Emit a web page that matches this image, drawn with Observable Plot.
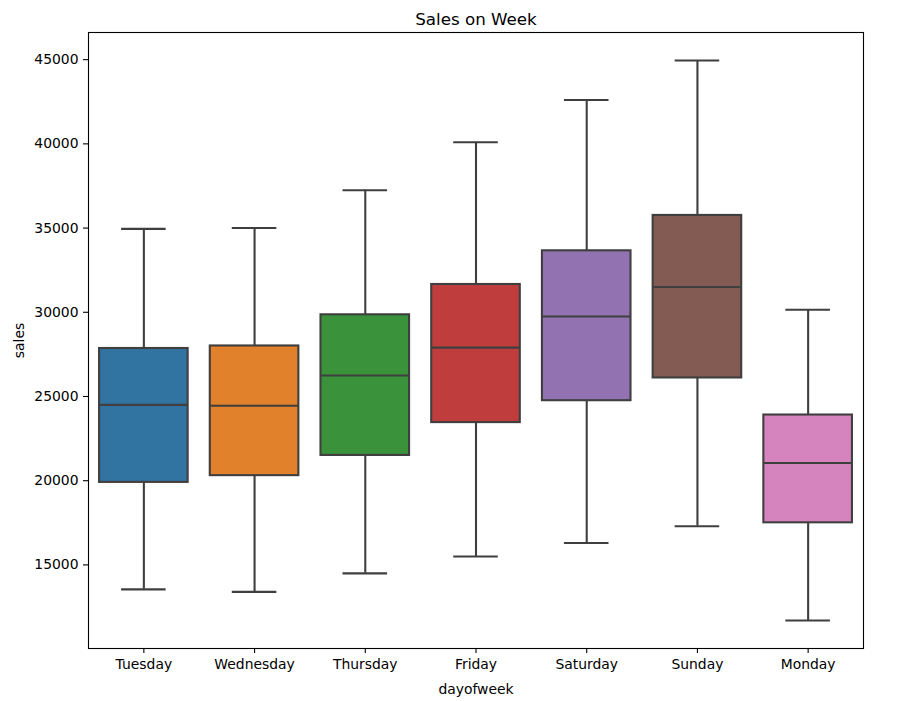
<!DOCTYPE html>
<html>
<head>
<meta charset="utf-8">
<script src="https://cdn.jsdelivr.net/npm/d3@7"></script>
<script src="https://cdn.jsdelivr.net/npm/@observablehq/plot@0.6"></script>
<style>
  html, body { margin: 0; padding: 0; background: #fff; }
</style>
</head>
<body>
<div id="chart"></div>
<script>
const days = ["Tuesday","Wednesday","Thursday","Friday","Saturday","Sunday","Monday"];
const whiskerLow = [13550,13400,14500,15500,16300,17300,11700];
const q1 = [19900,20300,21500,23450,24750,26100,17500];
const median = [24500,24450,26250,27900,29750,31500,21050];
const q3 = [27850,28000,29850,31650,33650,35750,23900];
const whiskerHigh = [34950,35000,37250,40100,42600,44950,30150];
const colors = ["#3274a1","#e1812c","#3a923a","#c03d3e","#9372b2","#845b53","#d684bd"];
const yTicks = [15000,20000,25000,30000,35000,40000,45000];

const rows = days.map((d, i) => ({
  day: d, lo: whiskerLow[i], q1: q1[i], med: median[i], q3: q3[i], hi: whiskerHigh[i]
}));

const edge = "#3f3f3f";
const lw = 2.1;

const chart = Plot.plot({
  width: 898,
  height: 701,
  marginLeft: 88,
  marginRight: 35,
  marginTop: 32,
  marginBottom: 53,
  style: { fontFamily: "DejaVu Sans", fontSize: "13.9px", color: "#000", background: "#fff" },
  x: { type: "band", domain: days, paddingInner: 0.2, paddingOuter: 0.1, round: false },
  y: { domain: [10037, 46612] },
  color: { type: "ordinal", domain: days, range: colors },
  marks: [
    Plot.ruleX(rows, { x: "day", y1: "lo", y2: "q1", stroke: edge, strokeWidth: lw }),
    Plot.ruleX(rows, { x: "day", y1: "q3", y2: "hi", stroke: edge, strokeWidth: lw }),
    Plot.tickY(rows, { x: "day", y: "lo", stroke: edge, strokeWidth: lw, insetLeft: 22, insetRight: 22 }),
    Plot.tickY(rows, { x: "day", y: "hi", stroke: edge, strokeWidth: lw, insetLeft: 22, insetRight: 22 }),
    Plot.barY(rows, { x: "day", y1: "q1", y2: "q3", fill: "day", stroke: edge, strokeWidth: lw }),
    Plot.tickY(rows, { x: "day", y: "med", stroke: edge, strokeWidth: lw }),
    Plot.frame({ stroke: "#000", strokeWidth: 1.1 }),
    Plot.axisY(yTicks, { tickSize: 5, tickPadding: 5, stroke: "#000", strokeWidth: 1.1, tickFormat: d => String(d),
      label: "sales", labelAnchor: "center", labelArrow: "none", labelOffset: 74, fontSize: 13.9 }),
    Plot.axisX({ tickSize: 5, tickPadding: 6, stroke: "#000", strokeWidth: 1.1,
      label: "dayofweek", labelAnchor: "center", labelArrow: "none", labelOffset: 45, fontSize: 13.9 }),
    Plot.text(["Sales on Week"], { frameAnchor: "top", dy: -8, lineAnchor: "bottom", fontSize: 16.7, text: d => d })
  ]
});
document.getElementById("chart").appendChild(chart);
</script>
</body>
</html>
